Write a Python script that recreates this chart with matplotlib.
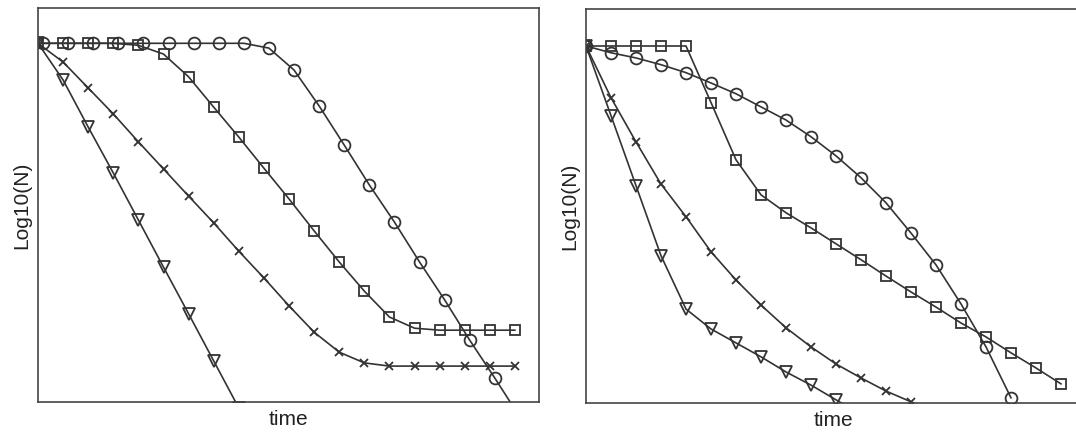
import numpy as np
import matplotlib
matplotlib.use("Agg")
import matplotlib.pyplot as plt

plt.rcParams['font.family'] = ['Liberation Sans', 'DejaVu Sans']

# left panel: time steps and log10(N) values
t_left = np.arange(20)
t_left_circ = np.arange(20) + 0.2
left_circ = [8.99, 8.99, 8.99, 8.99, 8.99, 8.99, 8.99, 8.99, 8.99, 8.87,
             8.32, 7.42, 6.44, 5.44, 4.51, 3.51, 2.56, 1.55, 0.60, -0.38]
left_sq = [8.99, 8.99, 8.99, 8.99, 8.94, 8.72, 8.15, 7.39, 6.64, 5.86,
           5.09, 4.29, 3.51, 2.78, 2.13, 1.85, 1.80, 1.80, 1.80, 1.80]
left_x = [8.99, 8.52, 7.87, 7.22, 6.52, 5.84, 5.16, 4.49, 3.78, 3.11,
          2.41, 1.75, 1.25, 0.98, 0.90, 0.90, 0.90, 0.90, 0.90, 0.90]
t_left_tri = np.arange(9)
left_tri = [8.99, 8.07, 6.89, 5.74, 4.56, 3.38, 2.21, 1.03, -0.15]

# right panel
t_right = np.arange(20)
right_sq = [8.97, 8.97, 8.97, 8.97, 8.97, 7.55, 6.11, 5.23, 4.78, 4.40,
            4.00, 3.60, 3.19, 2.79, 2.41, 2.01, 1.66, 1.26, 0.88, 0.48]
t_right_circ = np.arange(18)
right_circ = [8.97, 8.80, 8.67, 8.50, 8.30, 8.04, 7.77, 7.44, 7.11, 6.69,
              6.21, 5.66, 5.03, 4.27, 3.47, 2.49, 1.41, 0.13]
t_right_x = np.arange(15)
right_x = [8.97, 7.67, 6.56, 5.50, 4.68, 3.80, 3.09, 2.46, 1.89, 1.41,
           0.98, 0.63, 0.30, 0.03, -0.25]
t_right_tri = np.arange(12)
right_tri = [8.97, 7.22, 5.46, 3.70, 2.36, 1.86, 1.51, 1.16, 0.78, 0.45,
             0.08, -0.28]

ink = '#333333'
line_kw = dict(color=ink, lw=1.2, markerfacecolor='none', markeredgecolor=ink,
               markeredgewidth=1.3, clip_on=True)

fig = plt.figure(figsize=(10.76, 4.32), dpi=100)
ax1 = fig.add_axes([38 / 1076, 30 / 432, 501 / 1076, 394 / 432])
ax2 = fig.add_axes([586 / 1076, 29 / 432, 494 / 1076, 394 / 432])

ax1.plot(t_left_circ, left_circ, marker='o', ms=8.5, **line_kw)
ax1.plot(t_left, left_sq, marker='s', ms=6.5, **line_kw)
ax1.plot(t_left, left_x, marker='x', ms=5.5, **line_kw)
ax1.plot(t_left_tri, left_tri, marker='v', ms=8.5, **line_kw)
ax1.set_xlim(0, 501 / 25.1)
ax1.set_ylim(0, 394 / 39.9)

ax2.plot(t_right, right_sq, marker='s', ms=6.5, **line_kw)
ax2.plot(t_right_circ, right_circ, marker='o', ms=8.5, **line_kw)
ax2.plot(t_right_x, right_x, marker='x', ms=5.5, **line_kw)
ax2.plot(t_right_tri, right_tri, marker='v', ms=8.5, **line_kw)
ax2.set_xlim(0, 494 / 25.0)
ax2.set_ylim(0, 394 / 39.8)

for ax in (ax1, ax2):
    ax.set_xticks([])
    ax.set_yticks([])
    for sp in ax.spines.values():
        sp.set_color('#444444')
        sp.set_linewidth(1.2)
    ax.set_xlabel('time', fontsize=15, color='#222222', labelpad=6)
    ax.set_ylabel('Log10(N)', fontsize=15, color='#222222', labelpad=5)

fig.savefig('out.png', dpi=100)
